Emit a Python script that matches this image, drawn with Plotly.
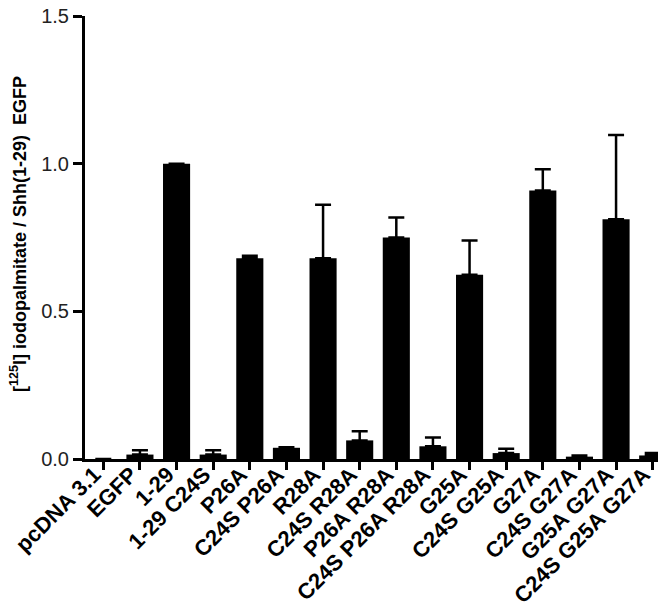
import plotly.graph_objects as go

categories = ["pcDNA 3.1", "EGFP", "1-29", "1-29 C24S", "P26A", "C24S P26A", "R28A",
              "C24S R28A", "P26A R28A", "C24S P26A R28A", "G25A", "C24S G25A", "G27A",
              "C24S G27A", "G25A G27A", "C24S G25A G27A"]
values = [0.0, 0.015, 1.0, 0.015, 0.680, 0.038, 0.680, 0.063, 0.750, 0.043, 0.624,
          0.020, 0.909, 0.008, 0.812, 0.012]
errors = [0.0, 0.015, 0.0, 0.015, 0.008, 0.002, 0.181, 0.031, 0.068, 0.030, 0.116,
          0.015, 0.072, 0.004, 0.285, 0.008]
y_ticks = [0.0, 0.5, 1.0, 1.5]
y_ticklabels = ["0.0", "0.5", "1.0", "1.5"]

fig = go.Figure()
fig.add_trace(go.Bar(
    x=categories, y=values, width=0.74,
    marker=dict(color="black", line=dict(width=0)),
    error_y=dict(type="data", symmetric=False, array=errors,
                 arrayminus=[0] * len(errors), color="black",
                 thickness=2.5, width=8),
))

fig.update_layout(
    width=666, height=607,
    margin=dict(l=77, r=3, t=8, b=156),
    plot_bgcolor="white", paper_bgcolor="white",
    showlegend=False,
    font=dict(family="Liberation Sans, Arial, sans-serif", color="black"),
    xaxis=dict(
        range=[-0.5, 15.5], showline=True, linewidth=3, linecolor="black",
        ticks="outside", ticklen=8, tickwidth=3, tickcolor="black",
        tickangle=-45, tickfont=dict(size=22, weight="bold"),
        ticklabelstandoff=-17, ticklabelshift=-9,
        showgrid=False, zeroline=False, automargin=False,
    ),
    yaxis=dict(
        range=[0, 1.5], tickvals=y_ticks, ticktext=y_ticklabels,
        showline=True, linewidth=3, linecolor="black",
        ticks="outside", ticklen=9, tickwidth=3, tickcolor="black",
        tickfont=dict(size=20, color="#222"), showgrid=False, zeroline=False,
        automargin=False, ticklabeloverflow="allow",
    ),
    annotations=[dict(
        text="[<sup>125</sup>I] iodopalmitate / Shh(1-29)  EGFP",
        textangle=-90, xref="paper", yref="paper", x=0, y=0.508,
        xshift=-66, xanchor="center", yanchor="middle", showarrow=False,
        font=dict(size=18, weight="bold", color="black"),
    )],
)

fig.write_html("out.html")
